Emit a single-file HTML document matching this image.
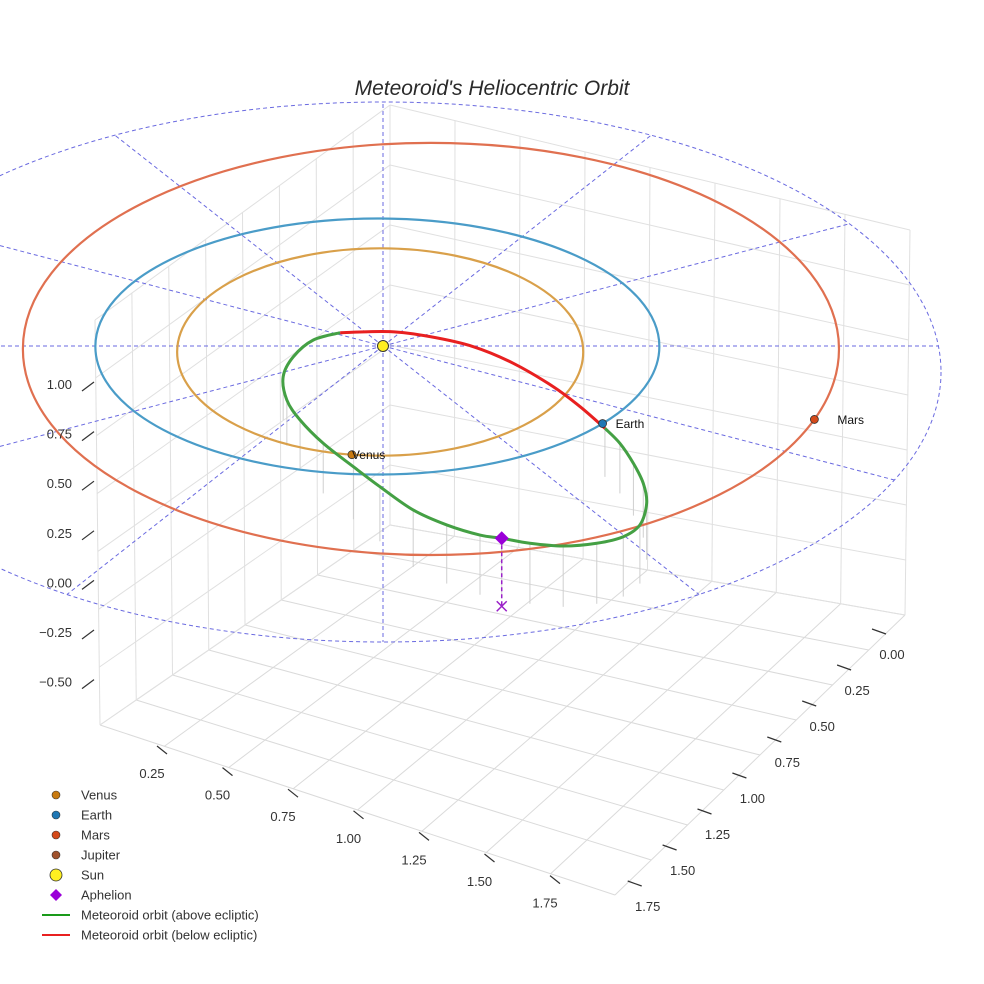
<!DOCTYPE html>
<html><head><meta charset="utf-8"><style>
body{margin:0;background:#fff}
svg{display:block;font-family:"Liberation Sans",sans-serif}
</style></head><body>
<svg id="c" width="984" height="984" viewBox="0 0 984 984">
<text x="492" y="95" text-anchor="middle" font-size="21" font-style="italic" fill="#2a2a2a">Meteoroid's Heliocentric Orbit</text>
<g id="grid"></g><g id="ecl"></g><g id="orbits"></g><g id="marks"></g><g id="ticks"></g><g id="legend"></g>
</svg>
<script>
const NS="http://www.w3.org/2000/svg";
const planetNames=["Venus","Earth","Mars"];
const planetOffsetX=[-0.01,-0.02,0.17];
const planetOffsetY=[0.047,0.004,0.023];
const planetSemiX=[0.72,1.0,1.447];
const planetSemiY=[0.81,1.0,1.61];
const planetAngles=[98,37,20];
const planetOrbitColors=["#d9a04a","#4a9cc8","#e07050"];
const planetDotColors=["#c87a10","#1f77b4","#d44a1a"];
const meteorAboveX=[-0.152,-0.247,-0.318,-0.354,-0.341,-0.294,-0.212,-0.105,-0.011,0.107,0.226,0.344,0.421,0.521,0.639,0.758,0.852,0.911,0.935,0.923,0.888,0.840,0.787];
const meteorAboveY=[-0.104,-0.047,0.084,0.240,0.422,0.578,0.760,0.943,1.099,1.281,1.398,1.477,1.502,1.541,1.5625,1.541,1.490,1.398,1.229,1.073,0.917,0.760,0.643];
const meteorBelowX=[0.787,0.699,0.604,0.462,0.320,0.167,0.025,-0.152];
const meteorBelowY=[0.643,0.474,0.318,0.135,0.005,-0.073,-0.112,-0.104];
const aphelion=[0.421,1.502];
const zTicks=["1.00","0.75","0.50","0.25","0.00","−0.25","−0.50"];
const xTicks=["0.25","0.50","0.75","1.00","1.25","1.50","1.75"];
const yTicks=["0.00","0.25","0.50","0.75","1.00","1.25","1.50","1.75"];
const legendLabels=["Venus","Earth","Mars","Jupiter","Sun","Aphelion","Meteoroid orbit (above ecliptic)","Meteoroid orbit (below ecliptic)"];
const sx=x=>383+282*x, sy=y=>346+128*y;
function el(p,tag,a,name){const e=document.createElementNS(NS,tag);for(const k in a)e.setAttribute(k,a[k]);


p.appendChild(e);return e;}
const G=id=>document.getElementById(id);
const FB=[390,525],FL=[100,725],FR=[905,615],FF=[615,895];
const TB=[390,105],TL=[95,320],TR=[910,230];
const lerp=(a,b,t)=>[a[0]+(b[0]-a[0])*t,a[1]+(b[1]-a[1])*t];
const floorP=(u,v)=>lerp(lerp(FB,FL,u),lerp(FR,FF,u),v);
const g=G('grid');
function ln(a,b,c,name){el(g,'line',{x1:a[0],y1:a[1],x2:b[0],y2:b[1],stroke:c,'stroke-width':1},name);}
for(let i=0;i<=8;i++){const t=i/8;
 ln(floorP(t,0),floorP(t,1),'#dadada','floor-gridline');
 ln(floorP(0,t),floorP(1,t),'#dadada','floor-gridline');
 ln(lerp(FB,FL,t),lerp(TB,TL,t),'#e0e0e0','left-wall-gridline');
 ln(lerp(FB,FR,t),lerp(TB,TR,t),'#e0e0e0','right-wall-gridline');
}
for(let j=0;j<=7;j++){const w=j/7;
 ln(lerp(FL,TL,w),lerp(FB,TB,w),'#e0e0e0','left-wall-gridline');
 ln(lerp(FB,TB,w),lerp(FR,TR,w),'#e0e0e0','right-wall-gridline');}
const e=G('ecl');
const ECX=383,ECY=372,ERX=558,ERY=270;
el(e,'ellipse',{cx:ECX,cy:ECY,rx:ERX,ry:ERY,fill:'none',stroke:'#6a6ae0','stroke-width':1,'stroke-dasharray':'4,3'},'ecliptic-circle');
for(let k=0;k<12;k++){const a=k*Math.PI/6;const dx=282*Math.cos(a),dy=128*Math.sin(a);
 const ox=sx(0)-ECX,oy=sy(0)-ECY;const A=dx*dx/ERX/ERX+dy*dy/ERY/ERY,B2=2*(ox*dx/ERX/ERX+oy*dy/ERY/ERY),C=ox*ox/ERX/ERX+oy*oy/ERY/ERY-1;
 const t=(-B2+Math.sqrt(B2*B2-4*A*C))/(2*A);
 el(e,'line',{x1:sx(0),y1:sy(0),x2:sx(0)+dx*t,y2:sy(0)+dy*t,stroke:'#6a6ae0','stroke-width':1,'stroke-dasharray':'4,3'},'ecliptic-radial-line');}
const o=G('orbits');
meteorAboveX.forEach((x,i)=>{if(i<3)return;const X=sx(x),Y=sy(meteorAboveY[i]);
 el(o,'line',{x1:X,y1:Y,x2:X,y2:Y+40+20*(meteorAboveY[i]/1.5),stroke:'#cfcfcf','stroke-width':1},'drop-line');});
planetNames.forEach((n,i)=>{el(o,'ellipse',{cx:sx(planetOffsetX[i]),cy:sy(planetOffsetY[i]),rx:282*planetSemiX[i],ry:128*planetSemiY[i],fill:'none',stroke:planetOrbitColors[i],'stroke-width':2.2},'orbit-'+n.toLowerCase());});
function smooth(X,Y){const q=X.map((x,i)=>[sx(x),sy(Y[i])]);let d='M'+q[0];
 for(let i=0;i<q.length-1;i++){const p0=q[Math.max(i-1,0)],p1=q[i],p2=q[i+1],p3=q[Math.min(i+2,q.length-1)];
 d+=' C'+(p1[0]+(p2[0]-p0[0])/6)+','+(p1[1]+(p2[1]-p0[1])/6)+' '+(p2[0]-(p3[0]-p1[0])/6)+','+(p2[1]-(p3[1]-p1[1])/6)+' '+p2;}return d;}
el(o,'path',{d:smooth(meteorAboveX,meteorAboveY),fill:'none',stroke:'#44a044','stroke-width':3},'meteoroid-orbit-above');
el(o,'path',{d:smooth(meteorBelowX,meteorBelowY),fill:'none',stroke:'#e82020','stroke-width':3},'meteoroid-orbit-below');
const m=G('marks');
const labelDx=[0,13,23];
planetNames.forEach((n,i)=>{const a=planetAngles[i]*Math.PI/180;
 const x=sx(planetOffsetX[i])+282*planetSemiX[i]*Math.cos(a),y=sy(planetOffsetY[i])+128*planetSemiY[i]*Math.sin(a);
 el(m,'circle',{cx:x,cy:y,r:4,fill:planetDotColors[i],stroke:'#333','stroke-width':0.8},'planet-'+n.toLowerCase());
 const t=el(m,'text',{x:x+labelDx[i],y:y+4.5,'font-size':12,fill:'#111'},'label-'+n.toLowerCase());t.textContent=n;});
el(m,'circle',{cx:sx(0),cy:sy(0),r:5.5,fill:'#ffef20',stroke:'#333','stroke-width':1},'sun-marker');
const ax=sx(aphelion[0]),ay=sy(aphelion[1]);
el(m,'line',{x1:ax,y1:ay,x2:ax,y2:ay+68,stroke:'#9a20c8','stroke-width':1.5,'stroke-dasharray':'4,3'},'aphelion-drop');
el(m,'path',{d:`M${ax-5},${ay+63}l10,10M${ax+5},${ay+63}l-10,10`,stroke:'#9a20c8','stroke-width':1.5},'aphelion-projection');
el(m,'path',{d:`M${ax},${ay-7}l7,7l-7,7l-7,-7z`,fill:'#9a00d8'},'aphelion-marker');
const t=G('ticks');
zTicks.forEach((s,i)=>{const y=385+i*49.6;const e1=el(t,'text',{x:72,y:y+4,'font-size':13,fill:'#333','text-anchor':'end'},'z-tick-label');e1.textContent=s;
 el(t,'line',{x1:82,y1:y+6,x2:94,y2:y-3,stroke:'#333','stroke-width':1.2},'z-tick');});
xTicks.forEach((s,i)=>{const x=152+i*65.5,y=773+i*21.6;const e1=el(t,'text',{x:x,y:y+5,'font-size':13,fill:'#333','text-anchor':'middle'},'x-tick-label');e1.textContent=s;
 el(t,'line',{x1:x+5,y1:y-27,x2:x+15,y2:y-19,stroke:'#333','stroke-width':1.2},'x-tick');});
yTicks.forEach((s,i)=>{const x=892-i*34.9,y=654+i*36;const e1=el(t,'text',{x:x,y:y+5,'font-size':13,fill:'#333','text-anchor':'middle'},'y-tick-label');e1.textContent=s;
 el(t,'line',{x1:x-20,y1:y-25,x2:x-6,y2:y-20,stroke:'#333','stroke-width':1.2},'y-tick');});
const lg=G('legend');
legendLabels.forEach((s,i)=>{const y=795+i*20;
 if(i<4)el(lg,'circle',{cx:56,cy:y,r:4,fill:['#c87a10','#1f77b4','#d44a1a','#a0522d'][i],stroke:'#333','stroke-width':0.6},'legend-marker');
 else if(i==4)el(lg,'circle',{cx:56,cy:y,r:6,fill:'#ffef20',stroke:'#333','stroke-width':0.8},'legend-marker');
 else if(i==5)el(lg,'path',{d:`M56,${y-6}l6,6l-6,6l-6,-6z`,fill:'#9a00d8'},'legend-marker');
 else el(lg,'line',{x1:42,y1:y,x2:70,y2:y,stroke:i==6?'#1a9a1a':'#e82020','stroke-width':2},'legend-line');
 const e1=el(lg,'text',{x:81,y:y+4.5,'font-size':13,fill:'#333'},'legend-entry');e1.textContent=s;});
</script>
</body></html>
